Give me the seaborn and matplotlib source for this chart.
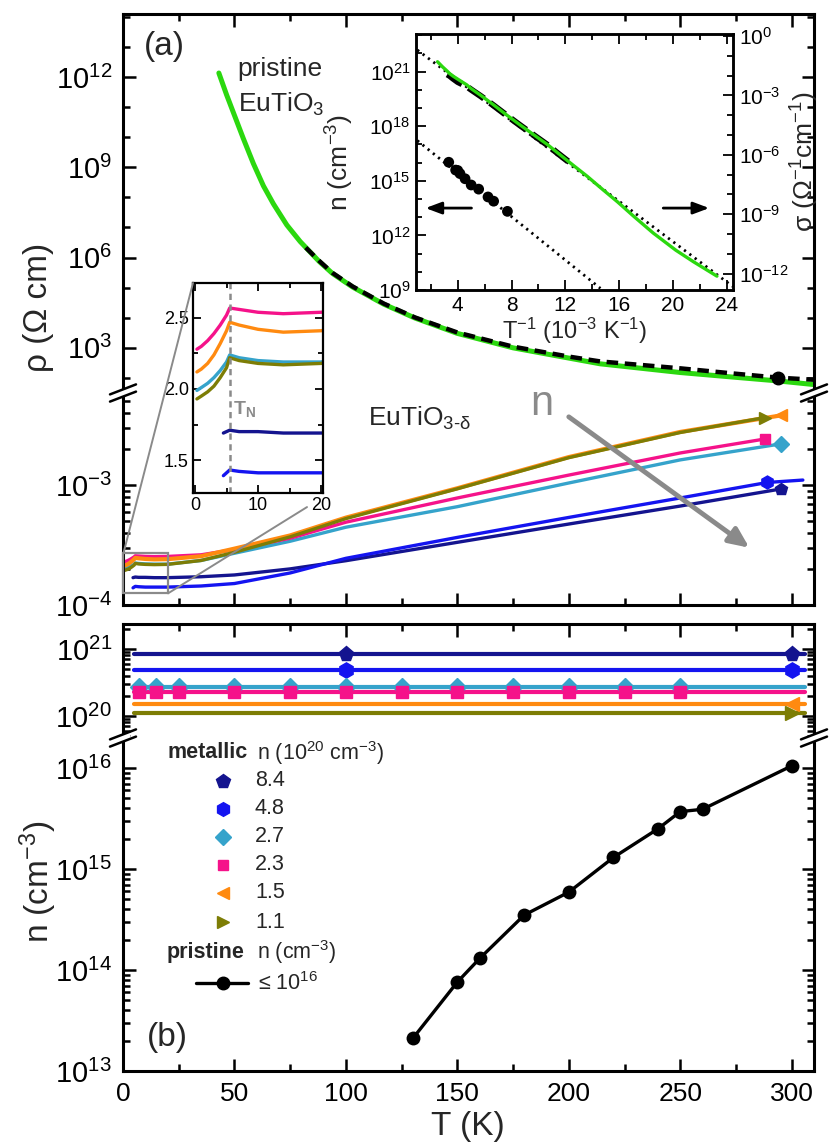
import numpy as np
import seaborn as sns
import matplotlib.pyplot as plt
from matplotlib import ticker
from matplotlib.lines import Line2D
from matplotlib.patches import Rectangle, ConnectionPatch

W, H = 830, 1147

# ---------------- data ----------------
# pristine EuTiO3, log10(rho / Ohm cm)
T_pri = [43, 46.5, 49.5, 54, 58.5, 63, 67.5, 73.5, 79.5, 88, 94, 103, 117, 131,
         150, 175, 200, 214, 250, 275, 294, 310, 350, 400]
logrho_pri = [12.13, 11.40, 10.82, 9.95, 9.12, 8.38, 7.78, 7.08, 6.53, 5.87, 5.47, 5.02, 4.45, 3.99,
              3.48, 3.00, 2.66, 2.47, 2.18, 2.02, 1.90, 1.78, 1.55, 1.30]
# rho calculated from n (dashed)
T_calc = [82, 88, 94, 103, 117, 131, 150, 175, 200, 214, 250, 275, 294, 310]
logrho_calc = [6.33, 5.89, 5.49, 5.04, 4.47, 4.01, 3.51, 3.04, 2.71, 2.55, 2.32, 2.14, 2.01, 1.94]
T_pri_dot = [294]
logrho_pri_dot = [2.01]

# metallic EuTiO3-d, rho in 1e-4 Ohm cm
T_84 = [4.5, 5, 5.5, 7, 10, 14, 20, 35, 50, 75, 100, 150, 200, 250, 295]
rho_84 = [1.69, 1.70, 1.71, 1.70, 1.70, 1.69, 1.69, 1.72, 1.78, 2.0, 2.34, 3.33, 4.73, 6.68, 9.26]
T_48 = [4.5, 5, 5.5, 7, 10, 14, 20, 35, 50, 75, 100, 150, 200, 250, 289, 305]
rho_48 = [1.39, 1.41, 1.43, 1.42, 1.41, 1.41, 1.41, 1.44, 1.51, 1.85, 2.45, 3.66, 5.37, 7.8, 10.5, 11.0]
T_27 = [0.3, 1, 2, 3, 4, 5, 5.5, 7, 10, 14, 20, 35, 50, 75, 100, 150, 200, 250, 295]
rho_27 = [1.99, 2.01, 2.04, 2.08, 2.13, 2.19, 2.24, 2.22, 2.20, 2.19, 2.19, 2.35, 2.7, 3.4, 4.45, 6.6, 10.4, 16.2, 22.0]
T_23 = [0.3, 1, 2, 3, 4, 5, 5.5, 7, 10, 14, 20, 35, 50, 75, 100, 150, 200, 250, 288]
rho_23 = [2.28, 2.30, 2.34, 2.39, 2.45, 2.52, 2.57, 2.56, 2.54, 2.53, 2.54, 2.62, 2.9, 3.6, 4.9, 7.8, 12.1, 18.5, 24.2]
T_15 = [0.3, 1, 2, 3, 4, 5, 5.5, 7, 10, 14, 20, 35, 50, 75, 100, 150, 200, 250, 295]
rho_15 = [2.12, 2.14, 2.18, 2.24, 2.32, 2.41, 2.47, 2.45, 2.42, 2.40, 2.41, 2.55, 2.95, 3.8, 5.35, 9.4, 17.1, 27.7, 38.0]
T_11 = [0.3, 1, 2, 3, 4, 5, 5.5, 7, 10, 14, 20, 35, 50, 75, 100, 150, 200, 250, 288]
rho_11 = [1.93, 1.95, 1.98, 2.02, 2.08, 2.15, 2.22, 2.20, 2.18, 2.17, 2.18, 2.35, 2.75, 3.7, 5.25, 9.3, 16.9, 27.4, 36.5]
T_end = [295, 289, 295, 288, 295, 288]
rho_end = [9.26, 10.5, 22.0, 24.2, 38.0, 36.5]

# carrier density of metallic samples (1e20 cm^-3)
labels_n = ['8.4', '4.8', '2.7', '2.3', '1.5', '1.1']
n_metal = [8.4, 4.8, 2.7, 2.3, 1.5, 1.1]
T_nline = [5, 306]
Tn_84 = [100, 300]
Tn_48 = [100, 300]
Tn_27 = [7, 15, 25, 50, 75, 100, 125, 150, 175, 200, 225, 250]
Tn_23 = [7, 15, 25, 50, 75, 100, 125, 150, 175, 200, 225, 250]
Tn_15 = [300]
Tn_11 = [300]

# pristine carrier density (cm^-3)
T_npri = [130, 150, 160, 180, 200, 220, 240, 250, 260, 300]
n_pri = [2.1e13, 7.6e13, 1.3e14, 3.5e14, 5.9e14, 1.3e15, 2.5e15, 3.7e15, 3.9e15, 1.05e16]

# Arrhenius fits in the inset (x = 1000/T)
invT_fit_n = [1.0, 14.6]
logn_fit = [17.21, 9.09]
invT_fit_s = [1.0, 24.45]
logsig_fit = [-0.71, -12.66]

colors = ['#14148f', '#1414f0', '#35a3cb', '#f5128a', '#ff8a10', '#7d7d05']
markers = ['p', 'h', 'D', 's', '<', '>']
msizes = [11, 11, 9, 8, 10, 10]
widths = [2.4, 2.4, 2.4, 2.4, 3.0, 2.4]
green = '#2bd80f'
grey = '#8a8a8a'

T_rho = [T_84, T_48, T_27, T_23, T_15, T_11]
rho_all = [rho_84, rho_48, rho_27, rho_23, rho_15, rho_11]
Tn_all = [Tn_84, Tn_48, Tn_27, Tn_23, Tn_15, Tn_11]

# ---------------- style ----------------
sns.set_theme(style="ticks")
plt.rcParams['font.family'] = ['Liberation Sans', 'DejaVu Sans']
plt.rcParams['mathtext.fontset'] = 'custom'
plt.rcParams['mathtext.rm'] = 'Liberation Sans'
plt.rcParams['mathtext.it'] = 'Liberation Sans:italic'
plt.rcParams['mathtext.bf'] = 'Liberation Sans:bold'
plt.rcParams['mathtext.default'] = 'regular'


def rect(x0, y0, x1, y1):
    return [x0 / W, 1 - y1 / H, (x1 - x0) / W, (y1 - y0) / H]


def fpt(x, y):
    return (x / W, 1 - y / H)


def frame(ax, lw=2.2, tw=1.8, big=9, small=5, lsize=21, pad=8):
    for s in ax.spines.values():
        s.set_linewidth(lw)
        s.set_color('black')
    ax.tick_params(which='both', direction='in', width=tw, colors='black',
                   labelsize=lsize, pad=pad)
    ax.tick_params(which='major', length=big)
    ax.tick_params(which='minor', length=small)


def log_ticks(ax, majors, minors):
    ax.yaxis.set_major_locator(ticker.FixedLocator(majors))
    ax.yaxis.set_major_formatter(ticker.LogFormatterSciNotation())
    ax.yaxis.set_minor_locator(ticker.FixedLocator(minors))
    ax.yaxis.set_minor_formatter(ticker.NullFormatter())


def t_ticks(ax):
    ax.set_xlim(0, 310)
    ax.xaxis.set_major_locator(ticker.MultipleLocator(50))
    ax.xaxis.set_minor_locator(ticker.MultipleLocator(25))


def break_mark(fig, xp, yp):
    a, b = fpt(xp - 7, yp + 2.8), fpt(xp + 7, yp - 2.8)
    fig.add_artist(Line2D([a[0], b[0]], [a[1], b[1]], transform=fig.transFigure,
                          color='white', lw=4.5, solid_capstyle='butt'))
    for d in (-3.6, 3.6):
        a, b = fpt(xp - 13, yp + d + 5), fpt(xp + 13, yp + d - 5)
        fig.add_artist(Line2D([a[0], b[0]], [a[1], b[1]], transform=fig.transFigure,
                              color='black', lw=1.8))


fig = plt.figure(figsize=(W / 100, H / 100), dpi=100)
ax_top = fig.add_axes(rect(123, 14, 814, 393))
ax_mid = fig.add_axes(rect(123, 393, 814, 605))
ax_n = fig.add_axes(rect(123, 624, 814, 738))
ax_p = fig.add_axes(rect(123, 738, 814, 1071))

# ---------------- (a) upper: pristine ----------------
ax_top.set_yscale('log')
sns.lineplot(x=np.array(T_pri), y=10 ** np.array(logrho_pri), ax=ax_top, color=green,
             lw=3.6, sort=False, estimator=None)
ax_top.plot(T_calc, 10 ** np.array(logrho_calc), color='black', lw=3.2,
            linestyle=(0, (2.6, 1.5)))
ax_top.plot(T_pri_dot, 10 ** np.array(logrho_pri_dot), 'o', color='black', ms=9)
t_ticks(ax_top)
ax_top.set_ylim(10 ** 1.5, 10 ** 14.09)
log_ticks(ax_top, [1e3, 1e6, 1e9, 1e12], [10.0 ** k for k in range(1, 15)])
frame(ax_top)
ax_top.tick_params(axis='x', which='both', top=True, bottom=False, labelbottom=False)
ax_top.tick_params(axis='y', which='both', left=True, right=True)
ax_top.spines['bottom'].set_visible(False)
ax_top.text(9.5, 10 ** 13.0, '(a)', fontsize=24, va='center', ha='left')
ax_top.text(51.5, 10 ** 12.25, 'pristine', fontsize=19, va='center', ha='left')
ax_top.text(51.5, 10 ** 11.1, 'EuTiO$_3$', fontsize=19, va='center', ha='left')

# ---------------- (a) lower: metallic ----------------
ax_mid.set_yscale('log')
for T, r, c, w in zip(T_rho, rho_all, colors, widths):
    sns.lineplot(x=np.array(T), y=np.array(r) * 1e-4, ax=ax_mid, color=c, lw=w,
                 sort=False, estimator=None)
for t, r, c, m, s in zip(T_end, rho_end, colors, markers, msizes):
    ax_mid.plot([t], [r * 1e-4], marker=m, color=c, ms=s * 0.85, ls='none')
t_ticks(ax_mid)
ax_mid.set_ylim(1e-4, 10 ** -2.233)
log_ticks(ax_mid, [1e-4, 1e-3],
          [k * 10.0 ** e for e in (-4, -3) for k in range(2, 10)])
frame(ax_mid)
ax_mid.tick_params(axis='x', which='both', top=False, bottom=True, labelbottom=False)
ax_mid.tick_params(axis='y', which='both', left=True, right=True)
ax_mid.spines['top'].set_visible(False)
ax_mid.text(110, 3.6e-3, 'EuTiO$_{3\u2010\u03b4}$', fontsize=19, va='center', ha='left')
ax_mid.text(188, 4.7e-3, 'n', fontsize=30, color=grey, va='center', ha='center')
ax_mid.annotate('', xy=(281, 3.0e-4), xytext=(200, 3.7e-3),
                arrowprops=dict(arrowstyle='-|>,head_length=1.0,head_width=0.45',
                                color=grey, lw=3.5, shrinkA=0, shrinkB=0))
ax_mid.add_patch(Rectangle((0.2, 1.25e-4), 20, 1.45e-4, fill=False, ec=grey, lw=1.6,
                           clip_on=False, zorder=5))

# ---------------- (b) upper: metallic n ----------------
ax_n.set_yscale('log')
for nv, c in zip(n_metal, colors):
    sns.lineplot(x=np.array(T_nline), y=np.array([nv, nv]) * 1e20, ax=ax_n, color=c,
                 lw=3.0, sort=False, estimator=None)
for nv, Tm, c, m, s in zip(n_metal, Tn_all, colors, markers, msizes):
    ax_n.plot(Tm, [nv * 1e20] * len(Tm), marker=m, color=c, ms=s, ls='none',
              clip_on=False)
t_ticks(ax_n)
ax_n.set_ylim(10 ** 19.67, 10 ** 21.373)
log_ticks(ax_n, [1e20, 1e21], [k * 10.0 ** e for e in (19, 20, 21) for k in range(2, 10)])
frame(ax_n)
ax_n.tick_params(axis='x', which='both', top=True, bottom=False, labelbottom=False)
ax_n.tick_params(axis='y', which='both', left=True, right=True)
ax_n.spines['bottom'].set_visible(False)

# ---------------- (b) lower: pristine n ----------------
ax_p.set_yscale('log')
sns.lineplot(x=np.array(T_npri), y=np.array(n_pri), ax=ax_p, color='black', lw=2.4,
             marker='o', ms=10, markeredgewidth=0, sort=False, estimator=None)
t_ticks(ax_p)
ax_p.set_ylim(1e13, 10 ** 16.297)
log_ticks(ax_p, [1e13, 1e14, 1e15, 1e16],
          [k * 10.0 ** e for e in (13, 14, 15, 16) for k in range(2, 10)])
frame(ax_p)
ax_p.tick_params(axis='x', which='both', top=False, bottom=True, labelbottom=True,
                 labelsize=19)
ax_p.tick_params(axis='y', which='both', left=True, right=True)
ax_p.spines['top'].set_visible(False)
ax_p.text(0.035, 0.102, '(b)', transform=ax_p.transAxes, fontsize=24, va='center')

# legend drawn by hand
tr = ax_p.transAxes
lfs = 15.5
ax_p.text(0.0637, 0.955, 'metallic', transform=tr, fontsize=lfs, fontweight='bold', va='center')
ax_p.text(0.194, 0.955, 'n (10$^{20}$ cm$^{-3}$)', transform=tr, fontsize=lfs, va='center')
rows = [0.871, 0.787, 0.703, 0.619, 0.535, 0.447]
for yy, lab, c, m, s in zip(rows, labels_n, colors, markers, msizes):
    ax_p.plot([0.1447], [yy], marker=m, color=c, ms=s * 0.9, transform=tr, clip_on=False)
    ax_p.text(0.191, yy, lab, transform=tr, fontsize=lfs, va='center')
ax_p.text(0.0637, 0.357, 'pristine', transform=tr, fontsize=lfs, fontweight='bold', va='center')
ax_p.text(0.194, 0.357, 'n (cm$^{-3}$)', transform=tr, fontsize=lfs, va='center')
ax_p.plot([0.1056, 0.181], [0.264, 0.264], color='black', lw=2.4, transform=tr)
ax_p.plot([0.1447], [0.264], 'o', color='black', ms=9, transform=tr)
ax_p.text(0.195, 0.264, '\u2264 10$^{16}$', transform=tr, fontsize=lfs, va='center')

# ---------------- inset: Arrhenius ----------------
ax_in = fig.add_axes(rect(416, 34, 733, 290))
ax_in.set_facecolor('white')
ax_in.set_yscale('log')
ax_s = ax_in.twinx()
ax_s.set_yscale('log')
ax_in.plot(invT_fit_n, 10 ** np.array(logn_fit), color='black', lw=2.0, ls=(0, (0.8, 1.6)))
sns.scatterplot(x=1000 / np.array(T_npri), y=np.array(n_pri), ax=ax_in, color='black',
                s=60, edgecolor='none', zorder=4)
ax_s.plot(invT_fit_s, 10 ** np.array(logsig_fit), color='black', lw=2.0, ls=(0, (0.8, 1.6)))
ax_s.plot(1000 / np.array(T_calc), 10 ** (-np.array(logrho_calc)), color='black', lw=4.5,
          ls=(0, (3.0, 1.2)))
sns.lineplot(x=1000 / np.array(T_pri), y=10 ** (-np.array(logrho_pri)), ax=ax_s,
             color=green, lw=2.4, sort=False, estimator=None)
ax_in.set_xlim(0.9, 24.45)
ax_in.set_ylim(1e9, 10 ** 23.07)
ax_s.set_ylim(10 ** -12.83, 10 ** 0.1)
ax_in.xaxis.set_major_locator(ticker.MultipleLocator(4))
ax_in.xaxis.set_minor_locator(ticker.MultipleLocator(2))
log_ticks(ax_in, [1e9, 1e12, 1e15, 1e18, 1e21], [10.0 ** k for k in range(9, 24)])
log_ticks(ax_s, [1e-12, 1e-9, 1e-6, 1e-3, 1e0], [10.0 ** k for k in range(-13, 1)])
for a in (ax_in, ax_s):
    frame(a, lw=1.8, tw=1.3, big=7, small=4, lsize=15, pad=4)
ax_in.tick_params(axis='x', which='both', top=True, bottom=True)
ax_in.tick_params(axis='y', which='both', left=True, right=False)
ax_s.tick_params(axis='y', which='both', left=False, right=True)
ax_in.set_ylabel('n (cm$^{-3}$)', fontsize=19)
ax_in.yaxis.set_label_coords(-0.19, 0.5)
ax_s.set_ylabel('\u03c3 (\u03a9$^{-1}$cm$^{-1}$)', fontsize=19)
ax_s.yaxis.set_label_coords(1.175, 0.5)
ax_in.set_xlabel('T$^{-1}$ (10$^{-3}$ K$^{-1}$)', fontsize=17, labelpad=1)
ax_in.annotate('', xy=(0.03, 0.32), xytext=(0.175, 0.32), xycoords='axes fraction',
               arrowprops=dict(arrowstyle='-|>,head_length=0.8,head_width=0.3',
                               color='black', lw=2.0, shrinkA=0, shrinkB=0))
ax_in.annotate('', xy=(0.925, 0.32), xytext=(0.78, 0.32), xycoords='axes fraction',
               arrowprops=dict(arrowstyle='-|>,head_length=0.8,head_width=0.3',
                               color='black', lw=2.0, shrinkA=0, shrinkB=0))

# ---------------- inset: low-T zoom ----------------
ax_z = fig.add_axes(rect(193, 283, 323, 493))
ax_z.set_facecolor('white')
for T, r, c in zip(T_rho, rho_all, colors):
    sns.lineplot(x=np.array(T), y=np.array(r), ax=ax_z, color=c, lw=2.4,
                 sort=False, estimator=None)
ax_z.axvline(5.5, color=grey, lw=1.8, ls=(0, (2.5, 1.8)))
ax_z.text(6.0, 1.86, 'T$_N$', color=grey, fontsize=14, fontweight='bold', va='center')
ax_z.set_xlim(-0.32, 20.3)
ax_z.set_ylim(1.268, 2.746)
ax_z.xaxis.set_major_locator(ticker.FixedLocator([0, 10, 20]))
ax_z.xaxis.set_minor_locator(ticker.FixedLocator([5, 15]))
ax_z.yaxis.set_major_locator(ticker.MultipleLocator(0.5))
ax_z.yaxis.set_minor_locator(ticker.MultipleLocator(0.25))
ax_z.yaxis.set_major_formatter(ticker.FormatStrFormatter('%.1f'))
frame(ax_z, lw=1.6, tw=1.3, big=6, small=3.5, lsize=13, pad=3)
ax_z.tick_params(which='both', top=True, right=True)
for a, b in [((0.2, 2.7e-4), (0.0, 1.0)), ((20.2, 1.25e-4), (0.877, -0.067))]:
    fig.add_artist(ConnectionPatch(xyA=a, coordsA=ax_mid.transData, xyB=b,
                                   coordsB=ax_z.transAxes, color=grey, lw=1.4))

# ---------------- axis labels and breaks ----------------
fig.text(38 / W, 1 - 307 / H, '\u03c1 (\u03a9 cm)', rotation=90, fontsize=24,
         ha='center', va='center')
fig.text(38 / W, 1 - 882 / H, 'n (cm$^{-3}$)', rotation=90, fontsize=24,
         ha='center', va='center')
fig.text(468 / W, 1 - 1127 / H, 'T (K)', fontsize=24, ha='center', va='center')
for xp in (123, 814):
    break_mark(fig, xp, 393)
    break_mark(fig, xp, 738)

fig.savefig('out.png', dpi=100)
